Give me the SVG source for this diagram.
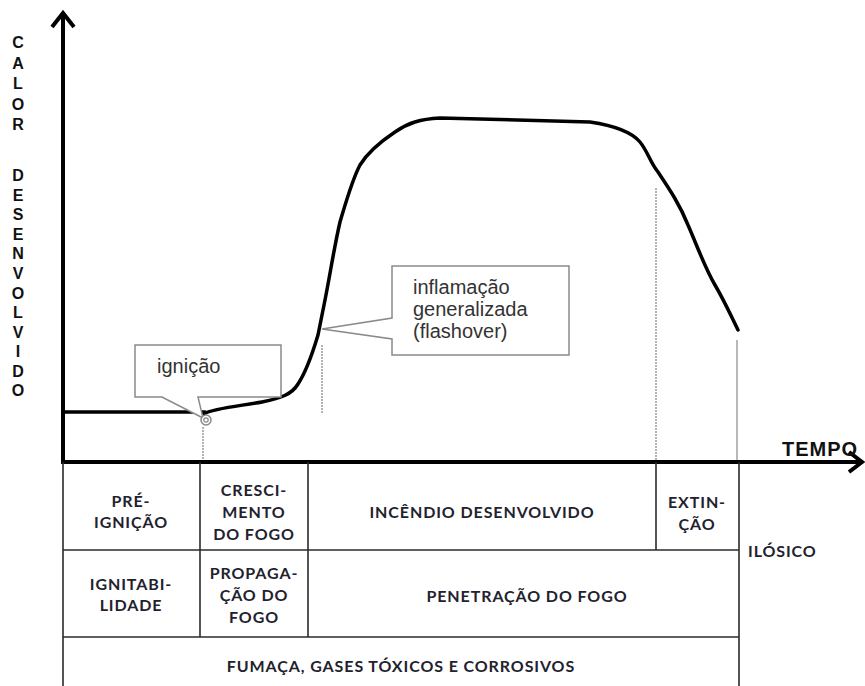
<svg xmlns="http://www.w3.org/2000/svg" width="865" height="686" viewBox="0 0 865 686">
<style>
.axis{stroke:#000;stroke-width:4;fill:none}
.curve{stroke:#000;stroke-width:3.5;fill:none;stroke-linejoin:round;stroke-linecap:round}
.guide{stroke:#9a9a9a;stroke-width:1.5;stroke-dasharray:2 1;fill:none}
.guide2{stroke:#a0a0a0;stroke-width:1.5;fill:none}
.callout{fill:#fff;stroke:#8a8a8a;stroke-width:1.5}
.ctext{font-family:"Liberation Sans",Arial,sans-serif;fill:#333;font-size:20px}
.ylab{font-family:"Liberation Sans",Arial,sans-serif;font-weight:bold;font-size:16px;fill:#111;text-anchor:middle}
.grid{stroke:#2a2a2a;stroke-width:1.6;fill:none}
.t{font-family:Lato,"Open Sans",sans-serif;font-weight:bold;font-size:16px;fill:#22222e;letter-spacing:0.9px}
.c{text-anchor:middle}
</style>
<g id="y-axis-label">
<text class="ylab" x="18" y="48">C</text>
<text class="ylab" x="18" y="69">A</text>
<text class="ylab" x="18" y="89">L</text>
<text class="ylab" x="18" y="110">O</text>
<text class="ylab" x="18" y="130">R</text>
<text class="ylab" x="18" y="181">D</text>
<text class="ylab" x="18" y="200.5">E</text>
<text class="ylab" x="18" y="220">S</text>
<text class="ylab" x="18" y="239.5">E</text>
<text class="ylab" x="18" y="259">N</text>
<text class="ylab" x="18" y="279">V</text>
<text class="ylab" x="18" y="298.5">O</text>
<text class="ylab" x="18" y="318">L</text>
<text class="ylab" x="18" y="337.5">V</text>
<text class="ylab" x="18" y="357">I</text>
<text class="ylab" x="18" y="376.5">D</text>
<text class="ylab" x="18" y="396">O</text>
</g>
<g id="guides">
<line class="guide" x1="322" y1="345" x2="322" y2="413"/>
<line class="guide" x1="656" y1="188" x2="656" y2="460"/>
<line class="guide2" x1="737" y1="340" x2="737" y2="460"/>
<line class="guide" x1="203" y1="427" x2="203" y2="460"/>
</g>
<g id="curve">
<line class="curve" x1="63" y1="412" x2="205" y2="412" stroke-linecap="butt"/>
<path class="curve" d="M203,414 C215,408 240,406 262,402 C282,398 292,394 298,384 C306,372 312,355 318,335 L325,300 C330,275 334,248 340,222 C346,202 352,180 360,165 C368,152 380,142 395,132 C408,123 420,119 440,118 L590,122 C610,125 630,130 640,142 C648,152 650,162 658,172 C670,190 680,205 688,225 C698,248 705,268 715,285 C725,302 732,318 738,330"/>
</g>
<g id="axes">
<line class="axis" x1="63" y1="13" x2="63" y2="464"/>
<polyline class="axis" points="52,27 63,13 74,27" stroke-linejoin="miter"/>
<line class="axis" x1="61" y1="462" x2="861" y2="462"/>
<polyline class="axis" points="849,452 862,462 849,472" stroke-linejoin="miter"/>
<text x="782" y="456" font-family="Liberation Sans,Arial,sans-serif" font-weight="bold" font-size="20" letter-spacing="1" fill="#111">TEMPO</text>
</g>
<g id="ignicao">
<path class="callout" d="M135,345 H281 V397 H198 L203,418 L162,397 H135 Z"/>
<circle cx="206" cy="420" r="5" fill="#fff" stroke="#888" stroke-width="1.5"/>
<circle cx="206" cy="420" r="2.2" fill="none" stroke="#888" stroke-width="1.2"/>
<text class="ctext" x="157" y="373" font-size="21">ignição</text>
</g>
<g id="flashover">
<path class="callout" d="M392,266 H569 V355 H392 V339 L322,329 L392,318 Z"/>
<text class="ctext" x="413" y="294">inflamação</text>
<text class="ctext" x="413" y="316">generalizada</text>
<text class="ctext" x="413" y="338">(flashover)</text>
</g>
<g id="table">
<line class="grid" x1="63" y1="462" x2="63" y2="686"/>
<line class="grid" x1="200" y1="462" x2="200" y2="637"/>
<line class="grid" x1="308" y1="462" x2="308" y2="637"/>
<line class="grid" x1="656" y1="462" x2="656" y2="550"/>
<line class="grid" x1="739" y1="462" x2="739" y2="686"/>
<line class="grid" x1="63" y1="550" x2="739" y2="550"/>
<line class="grid" x1="63" y1="637" x2="739" y2="637"/>
</g>
<g id="cell-pre-ignicao"><text class="t c" x="131" y="507">PRÉ-</text><text class="t c" x="131" y="528">IGNIÇÃO</text></g>
<g id="cell-crescimento"><text class="t c" x="254" y="496">CRESCI-</text><text class="t c" x="254" y="518">MENTO</text><text class="t c" x="254" y="540">DO FOGO</text></g>
<g id="cell-incendio"><text class="t c" x="482" y="518">INCÊNDIO DESENVOLVIDO</text></g>
<g id="cell-extincao"><text class="t c" x="697" y="508">EXTIN-</text><text class="t c" x="697" y="530">ÇÃO</text></g>
<g id="cell-ilosico"><text class="t" x="748" y="557">ILÓSICO</text></g>
<g id="cell-ignitabilidade"><text class="t c" x="131" y="590">IGNITABI-</text><text class="t c" x="131" y="611">LIDADE</text></g>
<g id="cell-propagacao"><text class="t c" x="254" y="579">PROPAGA-</text><text class="t c" x="254" y="601">ÇÃO DO</text><text class="t c" x="254" y="623">FOGO</text></g>
<g id="cell-penetracao"><text class="t c" x="527" y="602">PENETRAÇÃO DO FOGO</text></g>
<g id="cell-fumaca"><text class="t c" x="401" y="672">FUMAÇA, GASES TÓXICOS E CORROSIVOS</text></g>
</svg>
